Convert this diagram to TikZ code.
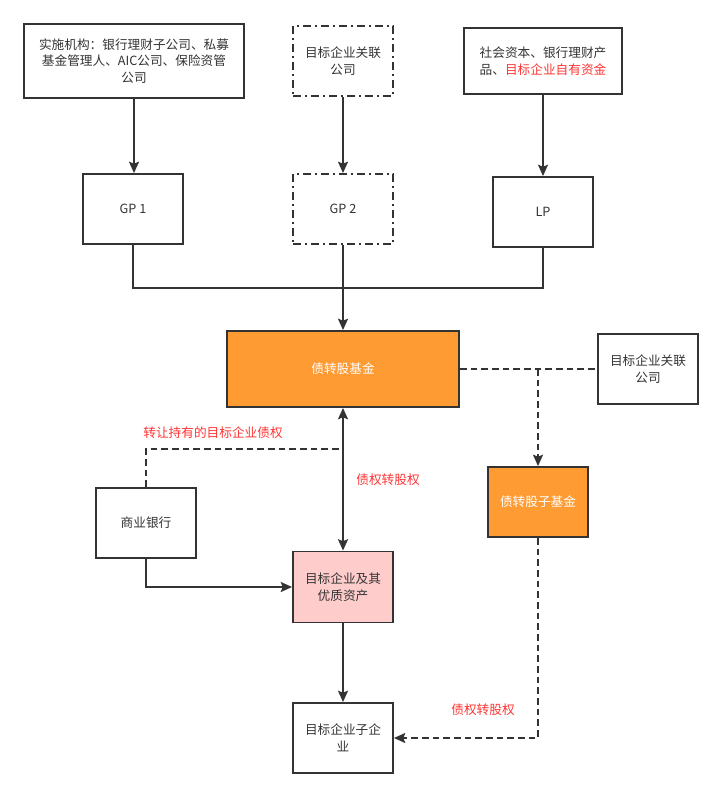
\documentclass[tikz,border=0pt]{standalone}
\usepackage{fontspec}
\newfontfamily\cjk{Noto Sans CJK SC}
\usetikzlibrary{positioning, calc, arrows.meta}
\definecolor{Tinta}{HTML}{333333}
\definecolor{Naranja}{HTML}{FF9B33}
\definecolor{Rosa}{HTML}{FFCCCC}
\definecolor{Rojo}{HTML}{FF3333}

\begin{document}
\begin{tikzpicture}[
    x=0.75pt, y=-0.75pt,
    >={Stealth[length=8.5pt, width=7.5pt, inset=1.5pt]},
    caja/.style={draw=Tinta, line width=1.4pt, text=Tinta, font=\cjk\fontsize{9.5pt}{12.5pt}\selectfont,
                 align=center, minimum width=75pt, minimum height=52.5pt, inner sep=2pt},
    rayas/.style={dash pattern=on 6pt off 3pt on 1.5pt off 3pt},
    linea/.style={draw=Tinta, line width=1.4pt},
    discontinua/.style={linea, dash pattern=on 5pt off 3pt},
    etiqueta/.style={text=Rojo, font=\cjk\fontsize{9.5pt}{12.5pt}\selectfont}
]
    \useasboundingbox (0,0) rectangle (723,798);

    % 1. Fila superior: origen de los fondos
    \node[caja, minimum width=165pt, minimum height=55.5pt] (impl) at (134,61)
        {实施机构：银行理财子公司、私募\\基金管理人、AIC公司、保险资管\\公司};
    \node[caja, rayas] (relsup) at (343,61) {目标企业关联\\公司};
    \node[caja, minimum width=118.5pt, minimum height=50pt] (social) at (543,61)
        {社会资本、银行理财产\\品、\textcolor{Rojo}{目标企业自有资金}};

    % 2. Socios GP / LP
    \node[caja] (gp1) at (133,209) {GP 1};
    \node[caja, rayas] (gp2) at (343,209) {GP 2};
    \node[caja] (lp) at (543,212) {LP};

    \draw[linea, ->] (impl.south) -- (impl.south |- gp1.north);
    \draw[linea, ->] (relsup) -- (gp2);
    \draw[linea, ->] (social) -- (lp);

    % 3. Fondo principal
    \node[caja, fill=Naranja, text=white, minimum width=174pt, minimum height=57pt] (fondo) at (343,369) {债转股基金};
    \coordinate (union) at (343,288);
    \draw[linea] (gp1.south) |- (union);
    \draw[linea] (lp.south) |- (union);
    \draw[linea, ->] (gp2) -- (fondo);

    % 4. Subfondo y empresa vinculada
    \node[caja] (relder) at (648,369) {目标企业关联\\公司};
    \node[caja, fill=Naranja, text=white] (subfondo) at (538,502) {债转股子基金};
    \draw[discontinua] (fondo.east) -- (relder.west);
    \draw[discontinua, ->] (fondo.east -| subfondo.north) -- (subfondo.north);

    % 5. Banco y activos de la empresa objetivo
    \node[caja] (banco) at (146,523) {商业银行};
    \node[caja, fill=Rosa, minimum height=53.25pt] (activos) at (343,587) {目标企业及其\\优质资产};
    \coordinate (cruce) at ($(fondo.south)+(0,41)$);

    \draw[linea, <->] (fondo.south) -- node[etiqueta, right=6pt, pos=0.5] {债权转股权} (activos.north);
    \draw[discontinua] (banco.north) |- (cruce);
    \node[etiqueta] (transfer) at (213,433) {转让持有的目标企业债权};
    \draw[linea, ->] (banco.south) |- (activos.west);

    % 6. Empresa filial
    \node[caja] (filial) at (343,738) {目标企业子企\\业};
    \draw[linea, ->] (activos) -- (filial);
    \draw[discontinua, ->] (subfondo.south) |- (filial.east);
    \node[etiqueta] (conv) at (483,710) {债权转股权};

\end{tikzpicture}
\end{document}
